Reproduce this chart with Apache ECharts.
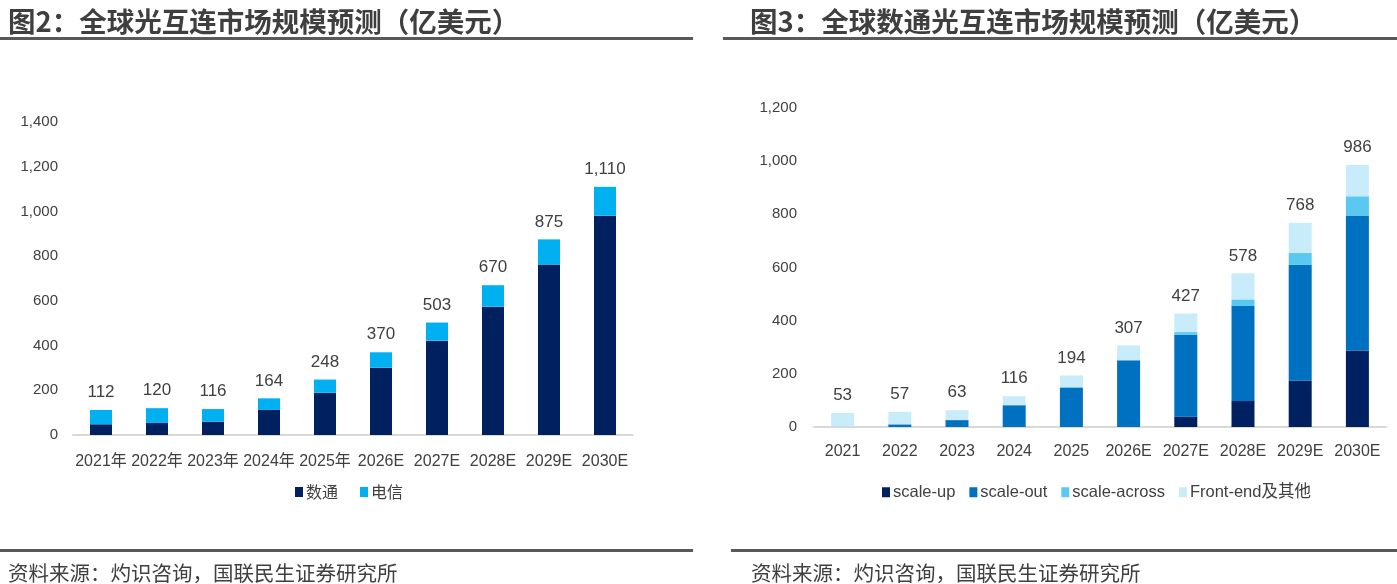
<!DOCTYPE html>
<html>
<head>
<meta charset="utf-8">
<script src="https://cdn.jsdelivr.net/npm/echarts@6/dist/echarts.min.js"></script>
<style>
  html, body { margin: 0; padding: 0; background: #fff; }
  #main { width: 1397px; height: 584px; }
</style>
</head>
<body>
<div id="main"></div>
<script>
// 图2 全球光互连市场规模
var years1 = ['2021年', '2022年', '2023年', '2024年', '2025年', '2026E', '2027E', '2028E', '2029E', '2030E'];
var shuTong = [48, 54, 59, 112, 189, 301, 422, 574, 763, 981];
var dianXin = [64, 66, 57, 52, 59, 69, 81, 96, 112, 129];
var total1 = [112, 120, 116, 164, 248, 370, 503, 670, 875, 1110];

// 图3 全球数通光互连市场规模
var years2 = ['2021', '2022', '2023', '2024', '2025', '2026E', '2027E', '2028E', '2029E', '2030E'];
var scaleUp = [0, 0, 0, 0, 0, 0, 39, 98, 175, 288];
var scaleOut = [1, 10, 26, 82, 149, 251, 308, 357, 435, 508];
var scaleAcross = [0, 0, 0, 0, 0, 0, 10, 25, 45, 72];
var frontEnd = [52, 47, 37, 34, 45, 56, 70, 98, 113, 118];
var total2 = [53, 57, 63, 116, 194, 307, 427, 578, 768, 986];

var txt = '#404040';
var numFont = "'Liberation Sans Narrow', 'Liberation Sans', Arial";
var cjkFont = "'Noto Sans CJK SC'";

function fmt(v) {
  return String(v).replace(/\B(?=(\d{3})+(?!\d))/g, ',');
}

var myChart = echarts.init(document.getElementById('main'));

var totalLabel = function (totals) {
  return {
    show: true,
    position: 'top',
    distance: 9,
    color: txt,
    fontSize: 17,
    fontFamily: numFont,
    formatter: function (p) { return fmt(totals[p.dataIndex]); }
  };
};

option = {
  animation: false,
  textStyle: { fontFamily: numFont },
  title: [
    {
      text: '图2：全球光互连市场规模预测（亿美元）',
      left: 3, top: 3,
      textStyle: { fontFamily: cjkFont, fontWeight: 'bold', fontSize: 27.5, color: '#3f3f3f' }
    },
    {
      text: '图3：全球数通光互连市场规模预测（亿美元）',
      left: 745, top: 3,
      textStyle: { fontFamily: cjkFont, fontWeight: 'bold', fontSize: 27.5, color: '#3f3f3f' }
    },
    {
      text: '资料来源：灼识咨询，国联民生证券研究所',
      left: 3, top: 558,
      textStyle: { fontFamily: cjkFont, fontWeight: 'normal', fontSize: 20.5, color: txt }
    },
    {
      text: '资料来源：灼识咨询，国联民生证券研究所',
      left: 746, top: 558,
      textStyle: { fontFamily: cjkFont, fontWeight: 'normal', fontSize: 20.5, color: txt }
    }
  ],
  graphic: [
    { type: 'rect', shape: { x: 0, y: 37, width: 693, height: 3 }, style: { fill: '#595959' } },
    { type: 'rect', shape: { x: 723, y: 37, width: 674, height: 3 }, style: { fill: '#595959' } },
    { type: 'rect', shape: { x: 0, y: 549, width: 693, height: 3 }, style: { fill: '#595959' } },
    { type: 'rect', shape: { x: 731, y: 549, width: 666, height: 3 }, style: { fill: '#595959' } }
  ],
  legend: [
    {
      data: ['数通', '电信'],
      left: 290, top: 479,
      itemWidth: 8, itemHeight: 10, itemGap: 22,
      icon: 'rect',
      textStyle: { fontFamily: cjkFont, fontSize: 16, color: txt, padding: [0, 0, 0, -2] }
    },
    {
      data: ['scale-up', 'scale-out', 'scale-across', 'Front-end及其他'],
      left: 877, top: 479,
      itemWidth: 8, itemHeight: 10, itemGap: 14,
      icon: 'rect',
      textStyle: { fontFamily: numFont + ', ' + cjkFont, fontSize: 16.5, color: txt, padding: [0, 0, 0, -2] }
    }
  ],
  grid: [
    { left: 73, width: 560, top: 122, height: 313 },
    { left: 814, width: 572, top: 108, height: 319 }
  ],
  xAxis: [
    {
      gridIndex: 0, type: 'category', data: years1,
      axisLine: { lineStyle: { color: '#d9d9d9', width: 2 } },
      axisTick: { show: false },
      axisLabel: { color: txt, fontSize: 16, margin: 19, fontFamily: numFont + ', ' + cjkFont, interval: 0 }
    },
    {
      gridIndex: 1, type: 'category', data: years2,
      axisLine: { lineStyle: { color: '#d9d9d9', width: 2 } },
      axisTick: { show: false },
      axisLabel: { color: txt, fontSize: 16, margin: 17, fontFamily: numFont, interval: 0 }
    }
  ],
  yAxis: [
    {
      gridIndex: 0, type: 'value', min: 0, max: 1400, interval: 200,
      axisLine: { show: false }, axisTick: { show: false }, splitLine: { show: false },
      axisLabel: { color: txt, fontSize: 15, margin: 15, fontFamily: numFont, formatter: fmt }
    },
    {
      gridIndex: 1, type: 'value', min: 0, max: 1200, interval: 200,
      axisLine: { show: false }, axisTick: { show: false }, splitLine: { show: false },
      axisLabel: { color: txt, fontSize: 15, margin: 17, fontFamily: numFont, formatter: fmt }
    }
  ],
  series: [
    {
      name: '数通', type: 'bar', stack: 'a', xAxisIndex: 0, yAxisIndex: 0,
      barWidth: 22, itemStyle: { color: '#002060' }, data: shuTong
    },
    {
      name: '电信', type: 'bar', stack: 'a', xAxisIndex: 0, yAxisIndex: 0,
      barWidth: 22, itemStyle: { color: '#00b0f0' }, data: dianXin,
      label: totalLabel(total1)
    },
    {
      name: 'scale-up', type: 'bar', stack: 'b', xAxisIndex: 1, yAxisIndex: 1,
      barWidth: 23, itemStyle: { color: '#002060' }, data: scaleUp
    },
    {
      name: 'scale-out', type: 'bar', stack: 'b', xAxisIndex: 1, yAxisIndex: 1,
      barWidth: 23, itemStyle: { color: '#0070c0' }, data: scaleOut
    },
    {
      name: 'scale-across', type: 'bar', stack: 'b', xAxisIndex: 1, yAxisIndex: 1,
      barWidth: 23, itemStyle: { color: '#5bc8f2' }, data: scaleAcross
    },
    {
      name: 'Front-end及其他', type: 'bar', stack: 'b', xAxisIndex: 1, yAxisIndex: 1,
      barWidth: 23, itemStyle: { color: '#c9ecfa' }, data: frontEnd,
      label: totalLabel(total2)
    }
  ]
};

myChart.setOption(option);
</script>
</body>
</html>
